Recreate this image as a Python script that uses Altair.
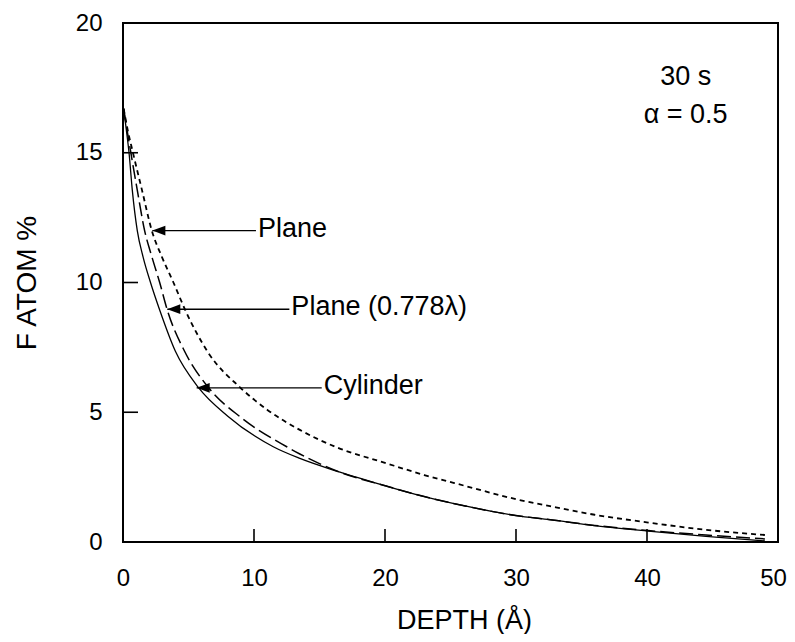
import altair as alt
import pandas as pd

# ---- data ----
plane_x = [0.05, 0.35, 0.76, 1.45, 2.2, 3.0, 3.85, 4.75, 6.5, 8.93, 11.0, 13.5, 16.3, 20.0, 23.0, 26.2, 30.0, 32.6, 36.0, 40.1, 44.5, 49.0]
plane_y = [16.7, 15.9, 15.0, 13.56, 12.0, 10.95, 10.0, 8.94, 7.3, 5.96, 5.1, 4.32, 3.65, 3.05, 2.58, 2.15, 1.65, 1.38, 1.05, 0.75, 0.47, 0.27]

plane778_x = [0.05, 0.3, 0.6, 1.09, 1.65, 2.2, 2.8, 3.38, 4.7, 6.51, 9.0, 12.5, 13.5, 15.0, 16.56, 20.0, 23.0, 26.2, 30.0, 32.6, 36.0, 40.1, 44.5, 49.0]
plane778_y = [16.7, 15.9, 15.0, 13.56, 12.0, 11.0, 10.0, 8.94, 7.35, 5.96, 4.8, 3.67, 3.39, 3.02, 2.69, 2.17, 1.75, 1.38, 1.02, 0.86, 0.64, 0.44, 0.27, 0.12]

cyl_x = [0.05, 0.25, 0.46, 0.71, 1.09, 1.55, 2.1, 2.8, 4.0, 5.75, 8.0, 11.47, 13.5, 16.56, 20.0, 23.0, 26.2, 30.0, 32.6, 36.0, 40.1, 44.5, 49.0]
cyl_y = [16.7, 15.9, 15.0, 13.56, 12.0, 10.95, 10.0, 8.94, 7.35, 5.96, 4.85, 3.67, 3.22, 2.69, 2.17, 1.75, 1.38, 1.02, 0.86, 0.63, 0.42, 0.22, 0.04]

x_ticks = [0, 10, 20, 30, 40, 50]
y_ticks = [0, 5, 10, 15, 20]
x_inner_ticks = [10, 20, 30, 40]
y_inner_ticks = [5, 10, 15]

ann_labels = ["Plane", "Plane (0.778λ)", "Cylinder"]
ann_head_x = [2.24, 3.38, 5.62]
ann_head_y = [12.0, 8.97, 5.94]
ann_end_x = [10.15, 12.7, 15.17]

corner_lines = ["30 s", "α = 0.5"]
corner_x = [42.95, 42.95]
corner_y = [17.6, 16.16]

FONT = "Liberation Sans"
W, H = 655, 519

xs = alt.Scale(domain=[0, 50], nice=False, zero=False)
ys = alt.Scale(domain=[0, 20], nice=False, zero=False)

x_axis = alt.Axis(values=x_ticks, ticks=False, domain=False, grid=False,
                  labelFont=FONT, labelFontSize=24, labelColor="black",
                  labelBaseline="alphabetic", labelPadding=43, labelFlush=False,
                  labelOffset={"condition": {"test": "datum.value == 50", "value": -5}, "value": 0},
                  title="DEPTH (Å)", titleFont=FONT, titleFontSize=27,
                  titleFontWeight="normal", titleColor="black",
                  titleBaseline="alphabetic", titleX=341, titleY=86)
y_axis = alt.Axis(values=y_ticks, ticks=False, domain=False, grid=False,
                  labelFont=FONT, labelFontSize=24, labelColor="black",
                  labelPadding=21, labelFlush=False,
                  title="F ATOM %", titleFont=FONT, titleFontSize=28,
                  titleFontWeight="normal", titleColor="black",
                  titleBaseline="alphabetic", titleAlign="center",
                  titleX=-88, titleY=259.5)

def X(field):
    return alt.X(field, scale=xs, axis=x_axis)

def Y(field):
    return alt.Y(field, scale=ys, axis=y_axis)

plane_df = pd.DataFrame({"x": plane_x, "y": plane_y})
p778_df = pd.DataFrame({"x": plane778_x, "y": plane778_y})
cyl_df = pd.DataFrame({"x": cyl_x, "y": cyl_y})

def enc_line(chart):
    return chart.encode(x=X("x:Q"), y=Y("y:Q"), order="x:Q")

plane_line = enc_line(alt.Chart(plane_df).mark_line(color="black", strokeWidth=1.8,
                      strokeDash=[5, 4], interpolate="monotone"))
p778_line = enc_line(alt.Chart(p778_df).mark_line(color="black", strokeWidth=1.5,
                     strokeDash=[14, 5], interpolate="monotone"))
cyl_line = enc_line(alt.Chart(cyl_df).mark_line(color="black", strokeWidth=1.3,
                    interpolate="monotone"))

xt_df = pd.DataFrame({"x": x_inner_ticks})
yt_df = pd.DataFrame({"y": y_inner_ticks})
x_tick_rules = alt.Chart(xt_df).mark_rule(color="black", strokeWidth=1.6).encode(
    x=X("x:Q"), y=alt.value(H), y2=alt.value(H - 13))
y_tick_rules = alt.Chart(yt_df).mark_rule(color="black", strokeWidth=1.6).encode(
    y=Y("y:Q"), x=alt.value(0), x2=alt.value(15))

ann_df = pd.DataFrame({"label": ann_labels, "x": ann_head_x, "y": ann_head_y, "ex": ann_end_x})
arrow_lines = alt.Chart(ann_df).mark_rule(color="black", strokeWidth=1.4).encode(
    x=X("x:Q"), x2="ex:Q", y=Y("y:Q"))
arrow_heads = alt.Chart(ann_df).mark_point(
    shape="M0,0L2,-0.75L2,0.75Z", filled=True, color="black", size=170, opacity=1
).encode(x=X("x:Q"), y=Y("y:Q"))
ann_text = alt.Chart(ann_df).mark_text(
    font=FONT, fontSize=27, align="left", baseline="alphabetic", dx=2, dy=6, color="black"
).encode(x=X("ex:Q"), y=Y("y:Q"), text="label:N")

corner_df = pd.DataFrame({"t": corner_lines, "x": corner_x, "y": corner_y})
corner_text = alt.Chart(corner_df).mark_text(
    font=FONT, fontSize=27, align="center", baseline="alphabetic", color="black"
).encode(x=X("x:Q"), y=Y("y:Q"), text="t:N")

chart = alt.layer(
    plane_line, p778_line, cyl_line, x_tick_rules, y_tick_rules,
    arrow_lines, arrow_heads, ann_text, corner_text
).properties(
    width=W, height=H,
    autosize=alt.AutoSizeParams(type="none"),
    padding={"left": 115, "top": 15, "right": 9, "bottom": 92},
    background="white",
).configure_view(stroke="black", strokeWidth=2)

chart.save("out.html", embed_options={"renderer": "svg", "actions": False})
